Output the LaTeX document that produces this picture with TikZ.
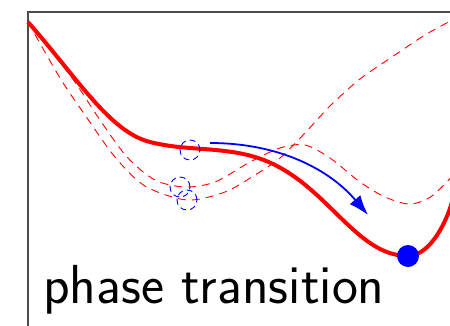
\documentclass[tikz,border=0pt]{standalone}
\usetikzlibrary{arrows.meta}
\begin{document}
\begin{tikzpicture}[
    x=1pt, y=-1pt,
    landscape/.style={red, line width=4pt, line join=round},
    branch/.style={red, dash pattern=on 8pt off 6pt, line width=0.9pt},
    trial/.style={draw=blue, dash pattern=on 6pt off 4pt, circle, minimum size=20pt, inner sep=0pt, line width=0.9pt},
    ball/.style={fill=blue, circle, minimum size=22pt, inner sep=0pt},
    move/.style={blue, line width=1.8pt, -{Latex[length=20pt,width=14pt]}}
]
\useasboundingbox (0,0) rectangle (450,325);
\clip (0,0) rectangle (450,325);
% frame
\draw[black!70, line width=1.2pt] (28,340) -- (28,12) -- (460,12);
% dashed landscapes
\draw[branch] plot[smooth] coordinates {(28,22) (72,78) (100,120) (127,157) (155,180) (185,187)
    (215,182) (250,162) (280,148) (305,145) (330,158) (360,182) (385,197) (410,204) (432,196) (456,172)};
\draw[branch] plot[smooth] coordinates {(28,22) (60,78) (85,115) (115,157) (145,186) (187,200)
    (225,192) (255,175) (280,158) (305,133) (330,106) (360,79) (392,57) (425,35) (456,18)};
% solid landscape
\draw[landscape] (28,22) .. controls (78,79) and (110,132) .. (150,142)
    .. controls (185,151) and (220,146.5) .. (255,157)
    .. controls (325,178) and (353,256) .. (408,256)
    .. controls (430,256) and (450,220) .. (456,185);
% states
\node[trial] (s1) at (190,150) {};
\node[trial] (s2) at (180,187) {};
\node[trial] (s3) at (187,200) {};
\coordinate (from) at (210,143);
\coordinate (to) at (368,215);
\draw[move] (from) .. controls (280,143) and (330,170) .. (to);
\node[ball] (final) at (408,256) {};
\node[anchor=base west, inner sep=0pt, font=\sffamily\fontsize{55}{60}\selectfont] (title) at (43,303) {phase transition};
\end{tikzpicture}
\end{document}
